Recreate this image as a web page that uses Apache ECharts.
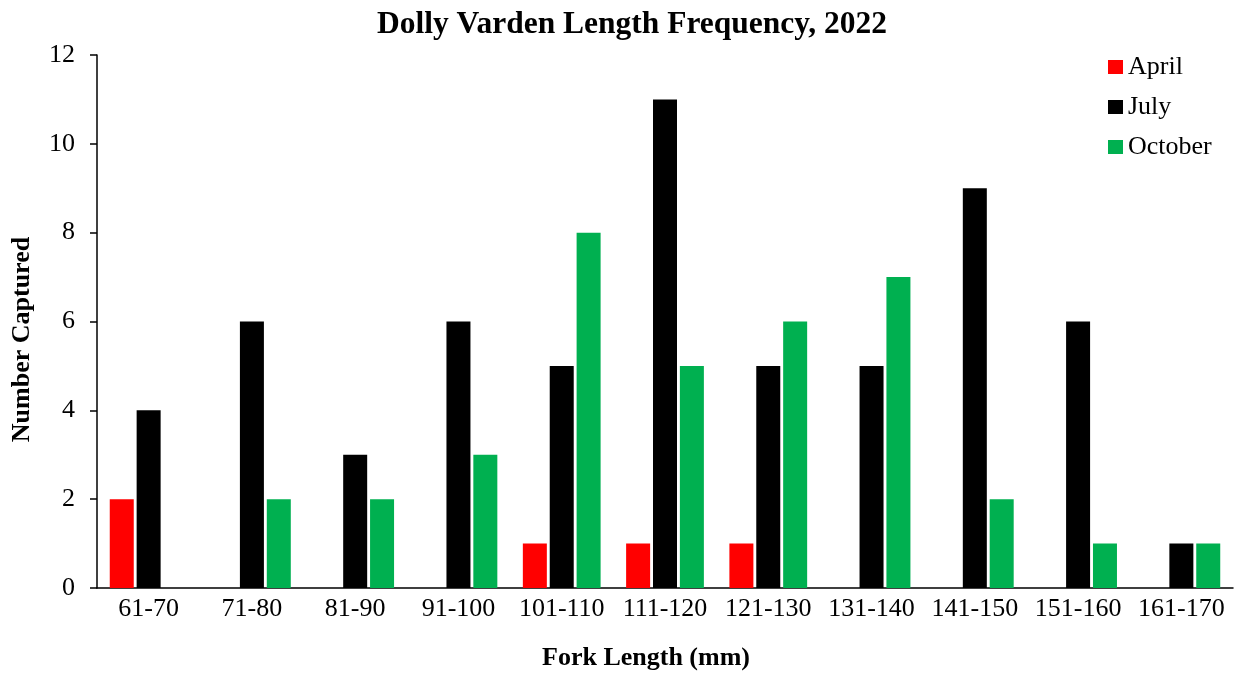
<!DOCTYPE html>
<html style="height: 100%; width: 100%">
  <head>
    <meta charset="utf-8" />
  </head>
  <body style="height: 100%; width: 100%; margin: 0">
    <div id="chart-panel" style="height: 676px; width: 1239px"></div>
    <script
      type="text/javascript"
      src="https://fastly.jsdelivr.net/npm/echarts@6/dist/echarts.min.js"
    ></script>
    <script type="text/javascript">
      var categories = [
        "61-70", "71-80", "81-90", "91-100", "101-110", "111-120",
        "121-130", "131-140", "141-150", "151-160", "161-170",
      ];
      var april = [2, 0, 0, 0, 1, 1, 1, 0, 0, 0, 0];
      var july = [4, 6, 3, 6, 5, 11, 5, 5, 9, 6, 1];
      var october = [0, 2, 2, 3, 8, 5, 6, 7, 2, 1, 1];

      var font = "'Liberation Serif', 'Times New Roman', serif";
      var myChart = echarts.init(document.getElementById("chart-panel"));

      function bar(name, data, color) {
        return {
          name: name,
          type: "bar",
          data: data,
          barWidth: 24,
          barGap: "12%",
          itemStyle: { color: color },
        };
      }

      var option = {
        animation: false,
        textStyle: { fontFamily: font },
        title: {
          text: "Dolly Varden Length Frequency, 2022",
          left: 627,
          textAlign: "center",
          top: 4,
          textStyle: { fontFamily: font, fontSize: 31.5, fontWeight: "bold", color: "#000" },
        },
        legend: {
          orient: "vertical",
          left: 1103,
          top: 49,
          itemWidth: 15,
          itemHeight: 14,
          itemGap: 14,
          textStyle: { fontFamily: font, fontSize: 26, color: "#000" },
          data: [
            { name: "April", icon: "rect" },
            { name: "July", icon: "rect" },
            { name: "October", icon: "rect" },
          ],
        },
        grid: { left: 97, right: 6, top: 55, bottom: 87 },
        xAxis: {
          type: "category",
          data: categories,
          name: "Fork Length (mm)",
          nameLocation: "middle",
          nameGap: 57,
          nameTextStyle: {
            fontFamily: font, fontSize: 26, fontWeight: "bold", color: "#000",
            padding: [0, 38, 0, 0],
          },
          axisLine: { lineStyle: { color: "#000", width: 1.5 } },
          axisTick: { length: 6, lineStyle: { color: "#000", width: 1.5 } },
          axisLabel: { fontFamily: font, fontSize: 26, color: "#000", margin: 8, interval: 0 },
        },
        yAxis: {
          type: "value",
          min: 0,
          max: 12,
          interval: 2,
          name: "Number Captured",
          nameLocation: "middle",
          nameGap: 62,
          nameTextStyle: {
            fontFamily: font, fontSize: 26, fontWeight: "bold", color: "#000",
            padding: [0, 36, 0, 0],
          },
          axisLine: { show: true, lineStyle: { color: "#000", width: 1.5 } },
          axisTick: { show: true, length: 7, lineStyle: { color: "#000", width: 1.5 } },
          axisLabel: { fontFamily: font, fontSize: 26, color: "#000", margin: 22 },
          splitLine: { show: false },
        },
        series: [
          bar("April", april, "#ff0000"),
          bar("July", july, "#000000"),
          bar("October", october, "#00b050"),
        ],
      };
      myChart.setOption(option);
    </script>
  </body>
</html>
